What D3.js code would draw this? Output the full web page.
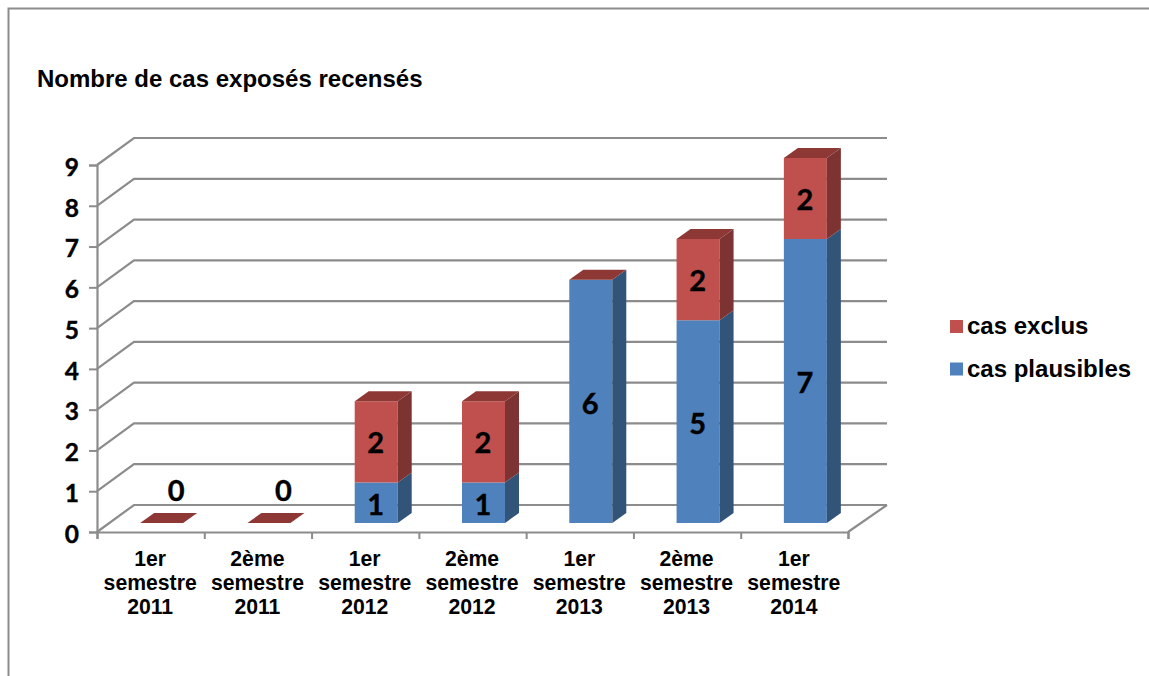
<!DOCTYPE html>
<html><head><meta charset="utf-8">
<script src="https://cdn.jsdelivr.net/npm/d3@7/dist/d3.min.js"></script>
<style>
html,body{margin:0;padding:0;background:#fff;overflow:hidden}
svg{display:block}
text{fill:#000}
.ar{font-family:"Liberation Sans",Arial,sans-serif;font-weight:700}
.cal{font-family:Lato,"Open Sans",sans-serif;font-weight:700;stroke:#000;stroke-width:0.4px}
</style></head><body>
<svg id="c" width="1149" height="676"></svg>
<script>
const categories = [
  ["1er","semestre","2011"],["2ème","semestre","2011"],["1er","semestre","2012"],
  ["2ème","semestre","2012"],["1er","semestre","2013"],["2ème","semestre","2013"],["1er","semestre","2014"]];
const casPlausibles = [0,0,1,1,6,5,7];
const casExclus = [0,0,2,2,0,2,2];
const yTicks = [0,1,2,3,4,5,6,7,8,9];
const titleText = "Nombre de cas exposés recensés";
const legendLabels = ["cas exclus","cas plausibles"];

const W=1149,H=676;
const svg=d3.select("#c");
const GRID="#8c8c8c";
const front={x0:97,x1:848,y0:532,y1:165};
const wall={dx:37,dy:-27};
const barOff={dx:0,dy:-9};
const depth={dx:14,dy:-10};

// frame
svg.append("path").attr("d",`M8.5,${H} V8.5 H${W}`).attr("fill","none").attr("stroke",GRID).attr("stroke-width",2);

svg.append("text").attr("class","ar").attr("x",37).attr("y",87).attr("font-size",24).text(titleText);

const x=d3.scaleBand().domain(d3.range(categories.length)).range([front.x0,front.x1]);
const y=d3.scaleLinear().domain([0,9]).range([front.y0,front.y1]);
const yBar=d3.scaleLinear().domain([0,9]).range([front.y0+barOff.dy,158]);

// walls and gridlines
const grid=svg.append("g").attr("fill","none").attr("stroke",GRID).attr("stroke-width",2.2);
yTicks.forEach(t=>{
  grid.append("path").attr("d",`M${front.x0},${y(t)} L${front.x0+wall.dx},${y(t)+wall.dy} H${front.x1+wall.dx+2}`);
});
grid.append("path").attr("d",`M${front.x1},${front.y0} L${front.x1+wall.dx+2},${front.y0+wall.dy}`);

// axes
const axL=svg.append("g").attr("transform",`translate(${front.x0},0)`)
  .call(d3.axisLeft(y).tickValues(yTicks).tickSize(8).tickPadding(10).tickFormat(d3.format("d")));
axL.selectAll("text").attr("class","cal").attr("font-size",24.5).attr("fill","#000").attr("dy","0.42em");
const axB=svg.append("g").attr("transform",`translate(0,${front.y0})`)
  .call(d3.axisBottom(d3.scaleLinear().domain([0,categories.length]).range([front.x0,front.x1]))
    .tickValues(d3.range(categories.length+1)).tickSize(7).tickFormat(""));
svg.selectAll(".domain").attr("stroke",GRID).attr("stroke-width",2.2);
svg.selectAll(".tick line").attr("stroke",GRID).attr("stroke-width",2);

// category labels
categories.forEach((lines,i)=>{
  const t=svg.append("text").attr("class","ar").attr("text-anchor","middle").attr("font-size",21.2);
  lines.forEach((l,k)=>t.append("tspan").attr("x",x(i)+x.bandwidth()/2-0.5).attr("y",566+k*24).text(l));
});

// bars
const bw=43;
const colors={plaus:{f:"#4F81BD",s:"#335479"},excl:{f:"#C0504D",s:"#7C3331",t:"#8E3836"}};
const poly=(g,pts,fill)=>g.append("polygon").attr("points",pts.map(p=>p.join(",")).join(" ")).attr("fill",fill);
const bars=svg.append("g");
function box(g,xl,yb,yt,c,top){
  const xr=xl+bw;
  if(yb!==yt){
    poly(g,[[xl,yb],[xr,yb],[xr,yt],[xl,yt]],c.f);
    poly(g,[[xr,yb],[xr+depth.dx,yb+depth.dy],[xr+depth.dx,yt+depth.dy],[xr,yt]],c.s);
  }
  if(top) poly(g,[[xl,yt],[xr,yt],[xr+depth.dx,yt+depth.dy],[xl+depth.dx,yt+depth.dy]],c.t);
}
const labels=[];
categories.forEach((_,i)=>{
  const c=x(i)+x.bandwidth()/2+11;
  const xl=c-bw/2, p=casPlausibles[i], e=casExclus[i];
  const g=bars.append("g");
  box(g,xl,yBar(0),yBar(p),colors.plaus,false);
  box(g,xl,yBar(p),yBar(p+e),colors.excl,true);
  if(p>0) labels.push({v:p,x:c,y:yBar(p/2)+2});
  if(e>0) labels.push({v:e,x:c,y:yBar(p+e/2)+1});
  if(p+e===0) labels.push({v:0,x:c+15,y:yBar(0)-32});
});
svg.append("g").selectAll("text").data(labels).join("text")
  .attr("class","cal").attr("font-size",29).attr("text-anchor","middle")
  .attr("x",d=>d.x-0.5).attr("y",d=>d.y).attr("dy","0.36em").text(d=>d.v);

// legend
const leg=svg.append("g");
[colors.excl.f,colors.plaus.f].forEach((col,i)=>{
  const ly=320+i*42.5;
  leg.append("rect").attr("x",950).attr("y",ly).attr("width",13).attr("height",13).attr("fill",col);
  leg.append("text").attr("class","ar").attr("x",967).attr("y",ly+14).attr("font-size",24).text(legendLabels[i]);
});
</script>
</body></html>
